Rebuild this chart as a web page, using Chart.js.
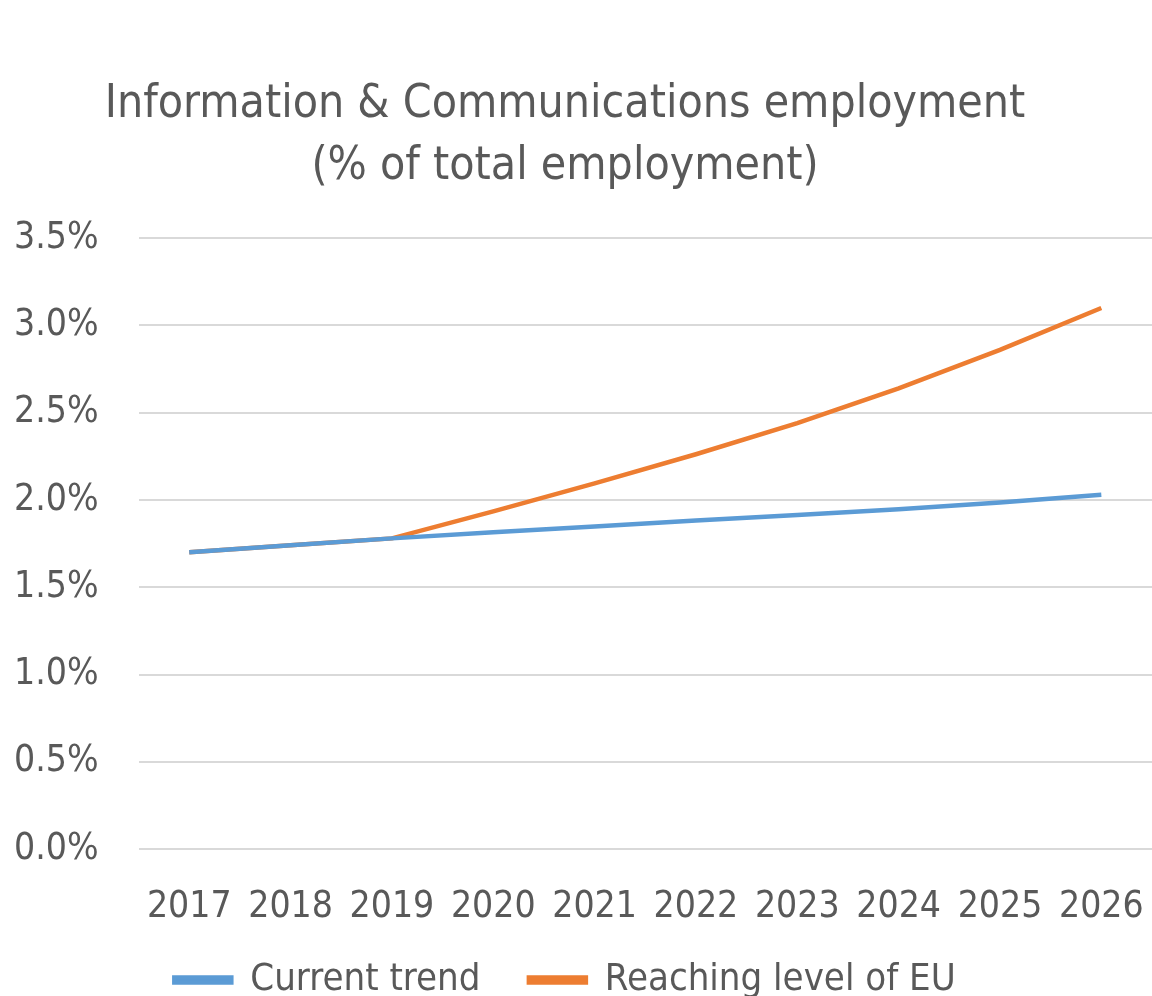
<!DOCTYPE html>
<html>
<head>
<meta charset="utf-8">
<script src="https://cdn.jsdelivr.net/npm/chart.js@4/dist/chart.umd.min.js"></script>
<style>
  html, body { margin: 0; padding: 0; background: #fff; }
  #wrap { width: 1152px; height: 996px; position: relative; }
</style>
</head>
<body>
<div id="wrap"><canvas id="myChart"></canvas></div>
<script>
var years = ['2017', '2018', '2019', '2020', '2021', '2022', '2023', '2024', '2025', '2026'];
var currentTrend = [1.70, 1.74, 1.78, 1.815, 1.848, 1.882, 1.914, 1.947, 1.986, 2.03];
var reachingEU = [1.70, 1.74, 1.78, 1.935, 2.095, 2.262, 2.44, 2.64, 2.86, 3.10];
var yTicks = [0, 0.5, 1, 1.5, 2, 2.5, 3, 3.5];

var fontFamily = "'Liberation Sans Narrow', 'DejaVu Sans Condensed', sans-serif";
var grey = '#595959';

var ctx = document.getElementById('myChart').getContext('2d');
var myChart = new Chart(ctx, {
    type: 'line',
    data: {
        labels: years,
        datasets: [{
            label: 'Current trend',
            data: currentTrend,
            borderColor: '#5B9BD5',
            backgroundColor: '#5B9BD5',
            borderWidth: 4.5,
            pointRadius: 0,
            tension: 0
        }, {
            label: 'Reaching level of EU',
            data: reachingEU,
            borderColor: '#ED7D31',
            backgroundColor: '#ED7D31',
            borderWidth: 4.5,
            pointRadius: 0,
            tension: 0
        }]
    },
    options: {
        responsive: true,
        maintainAspectRatio: false,
        animation: false,
        layout: { padding: { left: -26, right: -4, top: 0, bottom: -13 } },
        plugins: {
            title: {
                display: true,
                text: ['Information & Communications employment', '(% of total employment)'],
                color: grey,
                font: { family: fontFamily, size: 46, weight: 'normal', lineHeight: 1.35 },
                padding: { top: 74, bottom: 40 }
            },
            legend: {
                position: 'bottom',
                labels: {
                    color: grey,
                    font: { family: fontFamily, size: 38 },
                    boxWidth: 57,
                    boxHeight: 5,
                    padding: 5,
                    generateLabels: function (chart) {
                        var items = Chart.defaults.plugins.legend.labels.generateLabels(chart);
                        items[0].text = items[0].text + '    ';
                        return items;
                    }
                }
            },
            tooltip: { enabled: false }
        },
        scales: {
            x: {
                offset: true,
                grid: {
                    display: true,
                    drawOnChartArea: false,
                    drawTicks: true,
                    tickLength: 9,
                    tickColor: 'rgba(0,0,0,0)',
                    color: 'rgba(0,0,0,0)'
                },
                border: { display: false },
                ticks: {
                    color: grey,
                    font: { family: fontFamily, size: 37, lineHeight: 2.54 },
                    maxRotation: 0,
                    padding: 2
                }
            },
            y: {
                min: 0,
                max: 3.5,
                afterBuildTicks: function (axis) {
                    axis.ticks = yTicks.map(function (v) { return { value: v }; });
                },
                grid: { color: '#D9D9D9', lineWidth: 2, drawTicks: false },
                border: { display: false },
                ticks: {
                    color: grey,
                    font: { family: fontFamily, size: 37 },
                    padding: 40,
                    callback: function (value) { return value.toFixed(1) + '%'; }
                }
            }
        }
    }
});
</script>
</body>
</html>
